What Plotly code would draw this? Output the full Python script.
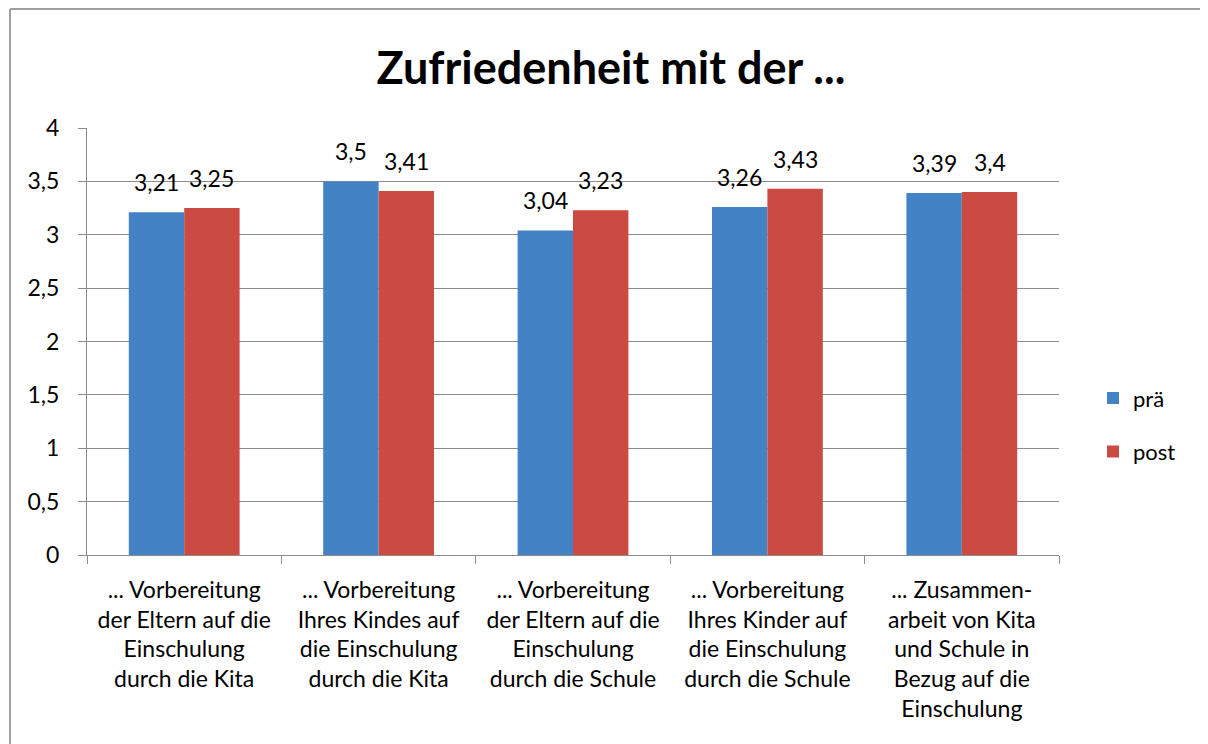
import plotly.graph_objects as go

categories = [
    "... Vorbereitung<br>der Eltern auf die<br>Einschulung<br>durch die Kita",
    "... Vorbereitung<br>Ihres Kindes auf<br>die Einschulung<br>durch die Kita",
    "... Vorbereitung<br>der Eltern auf die<br>Einschulung<br>durch die Schule",
    "... Vorbereitung<br>Ihres Kinder auf<br>die Einschulung<br>durch die Schule",
    "... Zusammen-<br>arbeit von Kita<br>und Schule in<br>Bezug auf die<br>Einschulung",
]
pre = [3.21, 3.5, 3.04, 3.26, 3.39]
post = [3.25, 3.41, 3.23, 3.43, 3.4]
y_ticks = [0, 0.5, 1, 1.5, 2, 2.5, 3, 3.5, 4]

font = "Lato, 'Open Sans', sans-serif"
W, H = 1200, 736
ml, mr, mt, mb = 79, 149, 120, 189
bargap = 0.43
bar_px = (W - ml - mr) / len(categories) * (1 - bargap) / 2


def fmt(v):
    return str(v).replace(".", ",")


fig = go.Figure()
fig.add_trace(go.Bar(x=categories, y=pre, name="prä",
                     marker=dict(color="#4382c5", line=dict(width=0)),
                     legendgroup="a"))
fig.add_trace(go.Bar(x=categories, y=post, name="post",
                     marker=dict(color="#cb4a42", line=dict(width=0)),
                     legendgroup="b"))

# value labels above the bars
for series, shift in [(pre, -bar_px / 2), (post, bar_px / 2)]:
    for cat, v in zip(categories, series):
        fig.add_annotation(x=cat, y=v, text=fmt(v), showarrow=False,
                           xshift=shift, yshift=14, yanchor="bottom",
                           font=dict(size=23, color="black", family=font))

# chart frame (only left and top edges are visible in the crop)
frame = dict(color="#a0a0a0", width=2)
fig.update_layout(
    width=W, height=H,
    margin=dict(l=ml, r=mr, t=mt, b=mb),
    paper_bgcolor="white", plot_bgcolor="white",
    font=dict(family=font, size=20, color="black"),
    separators=", ",
    barmode="group", bargap=bargap, bargroupgap=0,
    title=dict(text="<b>Zufriedenheit mit der ...</b>", x=0.5025, xanchor="center",
               y=0.918, yanchor="middle", font=dict(size=45, family=font)),
    legend=dict(x=1.035, y=0.304, xanchor="left", yanchor="middle",
                font=dict(size=22), tracegroupgap=22, itemwidth=30),
    shapes=[
        dict(type="line", xref="paper", yref="paper", x0=-0.0792, x1=-0.0792,
             y0=-0.6, y1=1.2787, line=frame, layer="below"),
        dict(type="line", xref="paper", yref="paper", x0=-0.0792, x1=1.3,
             y0=1.2787, y1=1.2787, line=frame, layer="below"),
    ],
)
fig.update_yaxes(
    range=[0, 4], tickvals=y_ticks, showgrid=True, gridcolor="#8c8c8c", gridwidth=1,
    showline=True, linecolor="#8c8c8c", linewidth=1, ticks="outside", ticklen=8,
    tickcolor="#8c8c8c", zeroline=False, tickfont=dict(size=23),
    ticklabelstandoff=14,
)
fig.update_xaxes(
    showline=True, linecolor="#8c8c8c", linewidth=1, ticks="outside",
    tickson="boundaries", ticklen=8, tickcolor="#8c8c8c", tickfont=dict(size=23),
    ticklabelstandoff=14,
)

fig.write_html("out.html")
